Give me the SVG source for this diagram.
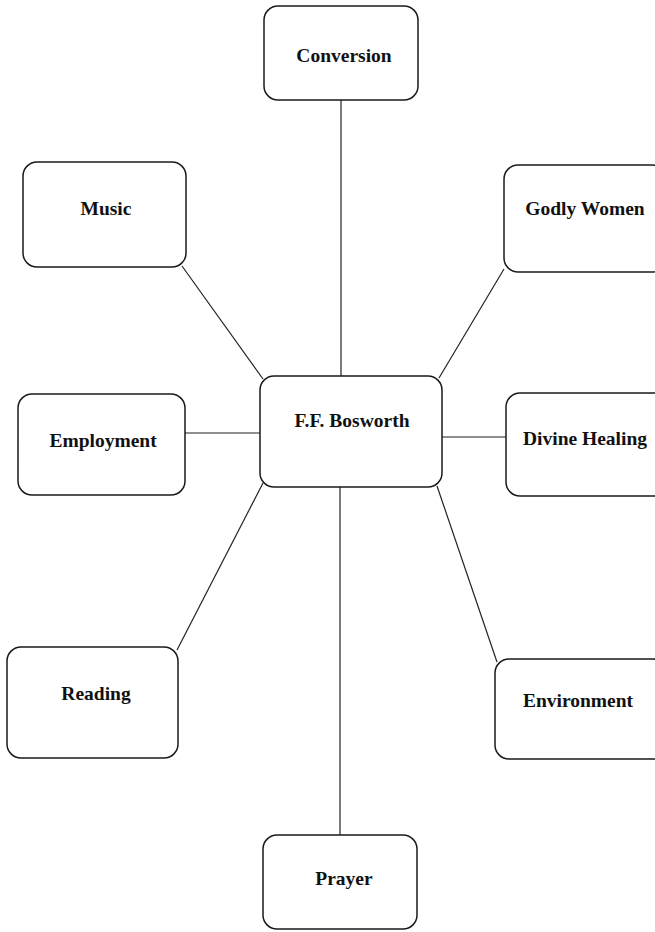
<svg xmlns="http://www.w3.org/2000/svg" width="655" height="932" viewBox="0 0 655 932">
<style>
.box{fill:#fff;stroke:#1a1a1a;stroke-width:1.5}
.lbl{font-family:"Liberation Serif","Times New Roman",serif;font-size:19.5px;font-weight:bold;fill:#111;text-anchor:middle}
.con{stroke:#222;stroke-width:1.2;fill:none}
</style>
<rect width="655" height="932" fill="#fff"/>
<g id="connectors">
<line class="con" x1="341" y1="100" x2="341" y2="376"/>
<line class="con" x1="182" y1="266" x2="263" y2="379"/>
<line class="con" x1="504" y1="269" x2="439" y2="378"/>
<line class="con" x1="185" y1="433" x2="260" y2="433"/>
<line class="con" x1="442" y1="437" x2="506" y2="437"/>
<line class="con" x1="177" y1="650" x2="263" y2="483"/>
<line class="con" x1="497" y1="662" x2="437" y2="486"/>
<line class="con" x1="340" y1="487" x2="340" y2="835"/>
</g>
<g id="conversion"><rect class="box" x="264" y="6" width="154" height="94" rx="14"/><text class="lbl" x="344" y="62">Conversion</text></g>
<g id="music"><rect class="box" x="23" y="162" width="163" height="105" rx="14"/><text class="lbl" x="106" y="215">Music</text></g>
<g id="godly-women"><rect class="box" x="504" y="165" width="162" height="107" rx="14"/><text class="lbl" x="585" y="215">Godly Women</text></g>
<g id="bosworth"><rect class="box" x="260" y="376" width="182" height="111" rx="14"/><text class="lbl" x="352" y="427">F.F. Bosworth</text></g>
<g id="employment"><rect class="box" x="18" y="394" width="167" height="101" rx="14"/><text class="lbl" x="103" y="447">Employment</text></g>
<g id="divine-healing"><rect class="box" x="506" y="393" width="162" height="103" rx="14"/><text class="lbl" x="585" y="445">Divine Healing</text></g>
<g id="reading"><rect class="box" x="7" y="647" width="171" height="111" rx="14"/><text class="lbl" x="96" y="700">Reading</text></g>
<g id="environment"><rect class="box" x="495" y="659" width="172" height="100" rx="14"/><text class="lbl" x="578" y="707">Environment</text></g>
<g id="prayer"><rect class="box" x="263" y="835" width="154" height="94" rx="14"/><text class="lbl" x="344" y="885">Prayer</text></g>
</svg>
